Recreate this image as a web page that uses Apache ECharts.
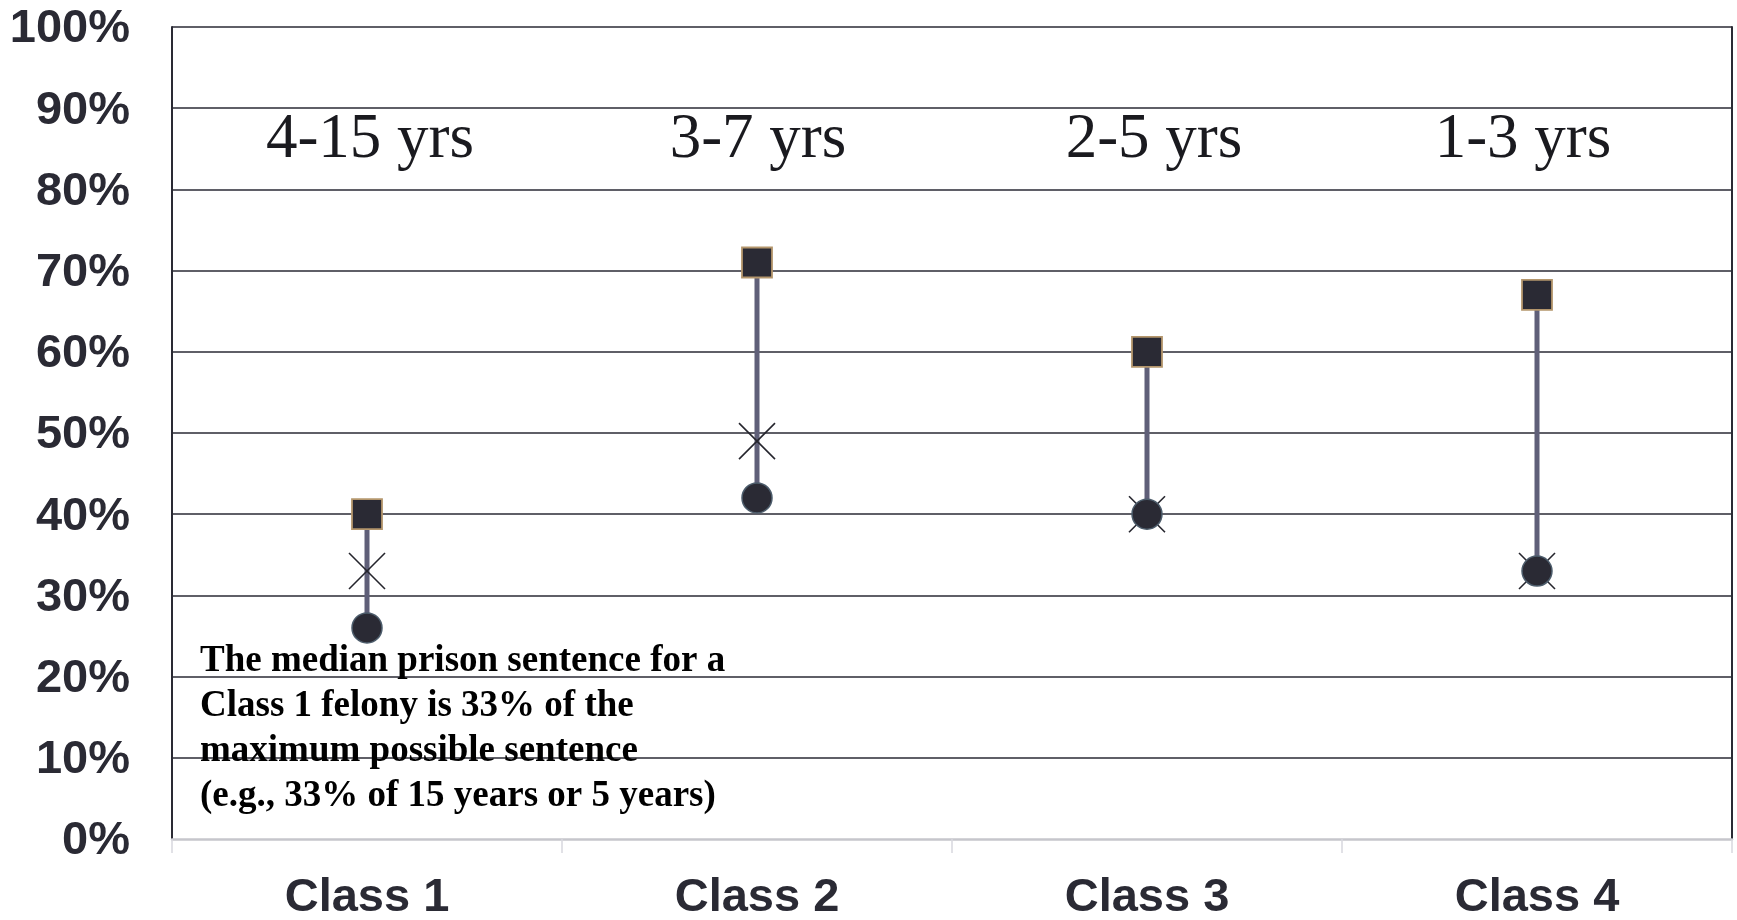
<!DOCTYPE html>
<html>
<head>
<meta charset="utf-8">
<script src="https://cdn.jsdelivr.net/npm/echarts@6/dist/echarts.min.js"></script>
<style>
html,body{margin:0;padding:0;background:#fff;}
#chart{width:1737px;height:920px;}
</style>
</head>
<body>
<div id="chart"></div>
<script>
const categories = ['Class 1', 'Class 2', 'Class 3', 'Class 4'];
const rangeLabels = ['4-15 yrs', '3-7 yrs', '2-5 yrs', '1-3 yrs'];
const maxVals = [40, 71, 60, 67];
const medianVals = [33, 49, 40, 33];
const minVals = [26, 42, 40, 33];
const yTicks = [0, 10, 20, 30, 40, 50, 60, 70, 80, 90, 100];
const noteLines = [
  'The median prison sentence for a',
  'Class 1 felony is 33% of the',
  'maximum possible sentence',
  '(e.g., 33% of 15 years or 5 years)'
];

const labelLevel = 86.0;
const labelNudge = [3, 1, 7, -14];
const dark = '#2a2a34';

const chart = echarts.init(document.getElementById('chart'), null, {renderer: 'canvas'});

const rangeData = categories.map((c, i) => [i, minVals[i], maxVals[i], medianVals[i]]);

const option = {
  animation: false,
  backgroundColor: '#ffffff',
  grid: {left: 172, right: 5, top: 27, bottom: 81, containLabel: false, outerBoundsMode: 'none'},
  xAxis: {
    type: 'category',
    data: categories,
    boundaryGap: true,
    axisLine: {show: true, lineStyle: {color: '#c6c6cc', width: 2.5}},
    axisTick: {show: true, length: 14, lineStyle: {color: '#d8d8de', width: 1.5}},
    axisLabel: {
      margin: 36,
      fontFamily: 'Liberation Sans',
      fontWeight: 'bold',
      fontSize: 47,
      color: dark
    },
    splitLine: {show: false}
  },
  yAxis: [{
    type: 'value',
    min: yTicks[0],
    max: yTicks[yTicks.length - 1],
    interval: 10,
    axisLine: {show: true, lineStyle: {color: dark, width: 2}},
    axisTick: {show: false},
    axisLabel: {
      margin: 42,
      formatter: v => '{a|' + v + '%}',
      rich: {
        a: {
          fontFamily: 'Liberation Sans',
          fontWeight: 'bold',
          fontSize: 47,
          color: dark,
          padding: [5, 0, 0, 0]
        }
      }
    },
    splitLine: {show: true, showMinLine: false, lineStyle: {color: dark, width: 1.6}}
  }, {
    type: 'value',
    position: 'right',
    min: 0, max: 100, interval: 10,
    axisLine: {show: true, lineStyle: {color: dark, width: 2}},
    axisTick: {show: false},
    axisLabel: {show: false},
    splitLine: {show: false}
  }],
  series: [
    {
      type: 'custom',
      z: 2,
      data: rangeData,
      renderItem: function (params, api) {
        const x = api.value(0);
        const lo = api.coord([x, api.value(1)]);
        const hi = api.coord([x, api.value(2)]);
        const md = api.coord([x, api.value(3)]);
        const h = 18;
        return {
          type: 'group',
          children: [
            {type: 'line', shape: {x1: lo[0], y1: lo[1], x2: hi[0], y2: hi[1]},
             style: {stroke: '#5f5f78', lineWidth: 5}},
            {type: 'line', shape: {x1: md[0] - h, y1: md[1] - h, x2: md[0] + h, y2: md[1] + h},
             style: {stroke: '#25252d', lineWidth: 1.6}},
            {type: 'line', shape: {x1: md[0] - h, y1: md[1] + h, x2: md[0] + h, y2: md[1] - h},
             style: {stroke: '#25252d', lineWidth: 1.6}}
          ]
        };
      }
    },
    {
      type: 'scatter',
      z: 3,
      symbol: 'circle',
      symbolSize: 30,
      data: minVals.map((v, i) => [i, v]),
      itemStyle: {color: dark, borderColor: '#4d5d6c', borderWidth: 1.5, opacity: 1}
    },
    {
      type: 'scatter',
      z: 4,
      symbol: 'rect',
      symbolSize: 30,
      data: maxVals.map((v, i) => [i, v]),
      itemStyle: {color: dark, borderColor: '#b4966c', borderWidth: 1.8, opacity: 1}
    },
    {
      type: 'scatter',
      z: 5,
      symbolSize: 0,
      silent: true,
      itemStyle: {opacity: 1},
      data: rangeLabels.map((t, i) => ({
        value: [i, labelLevel],
        name: t,
        label: {offset: [labelNudge[i], 0]}
      })),
      label: {
        show: true,
        position: 'inside',
        formatter: p => p.name,
        fontFamily: 'Liberation Serif',
        fontSize: 63,
        color: '#1a1a1f',
        opacity: 1
      }
    }
  ],
  graphic: [{
    type: 'text',
    left: 200,
    top: 639,
    z: 10,
    style: {
      text: noteLines.join('\n'),
      font: 'bold 37px "Liberation Serif"',
      lineHeight: 45,
      fill: '#000000'
    }
  }]
};

chart.setOption(option);
</script>
</body>
</html>
